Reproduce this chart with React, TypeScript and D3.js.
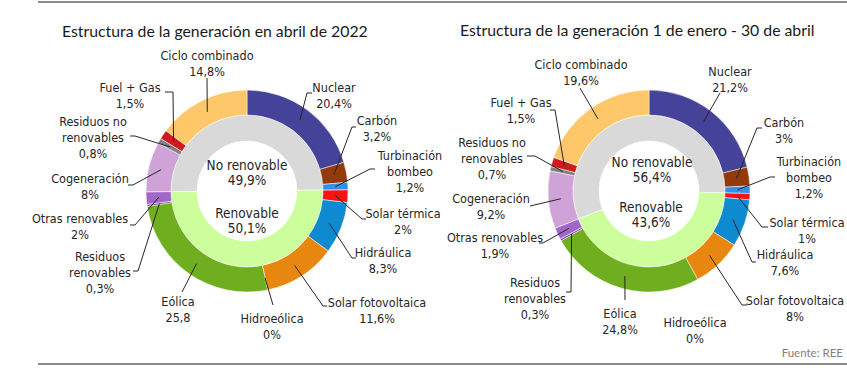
import React from 'react';
import * as d3 from 'd3';

// categorías del anillo exterior, en el orden de las agujas del reloj desde arriba
const categories = [
  'Nuclear', 'Carbón', 'Turbinación bombeo', 'Solar térmica', 'Hidráulica',
  'Solar fotovoltaica', 'Hidroeólica', 'Eólica', 'Residuos renovables',
  'Otras renovables', 'Cogeneración', 'Residuos no renovables', 'Fuel + Gas', 'Ciclo combinado',
];
const categoryLines = [
  ['Nuclear'], ['Carbón'], ['Turbinación', 'bombeo'], ['Solar térmica'], ['Hidráulica'],
  ['Solar fotovoltaica'], ['Hidroeólica'], ['Eólica'], ['Residuos', 'renovables'],
  ['Otras renovables'], ['Cogeneración'], ['Residuos no', 'renovables'], ['Fuel + Gas'], ['Ciclo combinado'],
];
const isRenewable = [false, false, false, true, true, true, true, true, true, true, false, false, false, false];

const abrilValues = [20.4, 3.2, 1.2, 2, 8.3, 11.6, 0, 25.8, 0.3, 2, 8, 0.8, 1.5, 14.8];
const abrilLabels = ['20,4%', '3,2%', '1,2%', '2%', '8,3%', '11,6%', '0%', '25,8', '0,3%', '2%', '8%', '0,8%', '1,5%', '14,8%'];

const acumValues = [21.2, 3, 1.2, 1, 7.6, 8, 0, 24.8, 0.3, 1.9, 9.2, 0.7, 1.5, 19.6];
const acumLabels = ['21,2%', '3%', '1,2%', '1%', '7,6%', '8%', '0%', '24,8%', '0,3%', '1,9%', '9,2%', '0,7%', '1,5%', '19,6%'];

const innerCategories = ['No renovable', 'Renovable'];
const abrilInner = [49.9, 50.1];
const abrilInnerLabels = ['49,9%', '50,1%'];
const acumInner = [56.4, 43.6];
const acumInnerLabels = ['56,4%', '43,6%'];

const colors = [
  '#45429a', '#923a0c', '#2f8fea', '#ff1010', '#0d8ad0', '#e8870f', '#9ccc3c',
  '#6fae1e', '#7a3fa8', '#a066c8', '#d0a3d8', '#808080', '#cf1a1f', '#fec86a',
];
const innerColors = ['#d9d9d9', '#ccff9c'];

// posición de las etiquetas y de las líneas guía, relativas al centro de cada anillo
type LabelPos = { x: number; y: number; pts: [number, number][] };
const abrilLayout: LabelPos[] = [
  { x: 87, y: -104, pts: [[60, -98], [65, -98]] },
  { x: 130, y: -71, pts: [[105, -64], [109, -64]] },
  { x: 163, y: -36, pts: [[123, -22], [128, -22]] },
  { x: 156, y: 22, pts: [[115, 28], [119, 28]] },
  { x: 136, y: 61, pts: [[105, 67], [109, 67]] },
  { x: 130, y: 111, pts: [[76, 115], [80, 115]] },
  { x: 25, y: 127, pts: [[26, 114]] },
  { x: -69, y: 110, pts: [[-65, 101]] },
  { x: -147, y: 65, pts: [[-109, 80], [-114, 80]] },
  { x: -167, y: 27, pts: [[-112, 34], [-117, 34]] },
  { x: -157, y: -13, pts: [[-114, -6], [-119, -6]] },
  { x: -154, y: -70, pts: [[-112, -55], [-117, -55]] },
  { x: -117, y: -104, pts: [[-74, -99], [-82, -99]] },
  { x: -40, y: -136, pts: [[-40, -113]] },
];
const acumLayout: LabelPos[] = [
  { x: 81, y: -120, pts: [[71, -98]] },
  { x: 135, y: -69, pts: [[108, -63], [113, -63]] },
  { x: 160, y: -30, pts: [[121, -14], [126, -14]] },
  { x: 158, y: 31, pts: [[113, 36], [119, 36]] },
  { x: 136, y: 63, pts: [[103, 71], [107, 71]] },
  { x: 146, y: 109, pts: [[93, 114], [98, 114]] },
  { x: 46, y: 131, pts: [] },
  { x: -29, y: 122, pts: [[-24, 109]] },
  { x: -114, y: 91, pts: [[-78, 101], [-83, 101]] },
  { x: -154, y: 46, pts: [[-106, 52], [-110, 52]] },
  { x: -158, y: 7, pts: [[-119, 15]] },
  { x: -157, y: -49, pts: [[-114, -35], [-122, -35]] },
  { x: -128, y: -89, pts: [[-94, -81], [-99, -81]] },
  { x: -68, y: -127, pts: [[-69, -103]] },
];

const labelFont = "'Liberation Sans Narrow', 'DejaVu Sans Condensed', 'Roboto Condensed', Roboto, sans-serif";
const titleFont = "Lato, 'Open Sans', sans-serif";

const R0 = 50, R1 = 76, R2 = 101;

type DonutProps = {
  cx: number; cy: number;
  values: number[]; labels: string[];
  inner: number[]; innerLabels: string[];
  layout: LabelPos[];
  innerPos: [number, number][];
};

const Donut = ({ cx, cy, values, labels, inner, innerLabels, layout, innerPos }: DonutProps) => {
  const outerPie = d3.pie<number>().value(d => d).sort(null)(values);
  const outerArc = d3.arc<d3.PieArcDatum<number>>().innerRadius(R1).outerRadius(R2);

  // el bloque "No renovable" empieza donde acaban las renovables
  const lastRen = isRenewable.lastIndexOf(true);
  const innerStart = outerPie[lastRen].endAngle - 2 * Math.PI;
  const innerPie = d3.pie<number>().value(d => d).sort(null)
    .startAngle(innerStart).endAngle(innerStart + 2 * Math.PI)(inner);
  const innerArc = d3.arc<d3.PieArcDatum<number>>().innerRadius(R0).outerRadius(R1);
  const line = d3.line();

  return (
    <g transform={`translate(${cx},${cy})`}>
      {innerPie.map((d, i) => (
        <path key={'i' + i} d={innerArc(d) || ''} fill={innerColors[i]} stroke="#fff" strokeWidth={0.5} />
      ))}
      {outerPie.map((d, i) => d.value > 0 && (
        <path key={'o' + i} d={outerArc(d) || ''} fill={colors[i]} stroke="#fff" strokeWidth={0.5} />
      ))}
      {outerPie.map((d, i) => {
        const lp = layout[i];
        if (lp.pts.length === 0) return null;
        const c = outerArc.centroid(d) as [number, number];
        return (
          <path key={'l' + i} d={line([c, ...lp.pts]) || ''} fill="none" stroke="#262626" strokeWidth={1} />
        );
      })}
      {outerPie.map((d, i) => {
        const lp = layout[i];
        const rows = [...categoryLines[i], labels[i]];
        return (
          <text key={'t' + i} x={lp.x} y={lp.y} textAnchor="middle" fontFamily={labelFont}
            fontSize={12.5} fill="#262626">
            {rows.map((r, k) => (
              <tspan key={k} x={lp.x} dy={k === 0 ? '0.36em' : 16}>{r}</tspan>
            ))}
          </text>
        );
      })}
      {innerPie.map((d, i) => (
        <text key={'it' + i} x={innerPos[i][0]} y={innerPos[i][1]} textAnchor="middle"
          fontFamily={labelFont} fontSize={13.5} fill="#262626">
          <tspan x={innerPos[i][0]} dy="0.36em">{innerCategories[i]}</tspan>
          <tspan x={innerPos[i][0]} dy={15.5}>{innerLabels[i]}</tspan>
        </text>
      ))}
    </g>
  );
};

export default function App() {
  const width = 847, height = 372;
  return (
    <svg width={width} height={height} style={{ position: 'absolute', left: 0, top: 0, background: '#fff' }}>
      <rect width={width} height={height} fill="#fff" />
      <line x1={38} x2={847} y1={2} y2={2} stroke="#8c8c8c" strokeWidth={2} />
      <line x1={38} x2={847} y1={364} y2={364} stroke="#8c8c8c" strokeWidth={2} />
      <text x={62} y={36.5} fontFamily={titleFont} fontSize={15.8} fill="#1a1a1a">
        Estructura de la generación en abril de 2022
      </text>
      <text x={460} y={35.5} fontFamily={titleFont} fontSize={15.8} fill="#1a1a1a">
        Estructura de la generación 1 de enero - 30 de abril
      </text>
      <Donut cx={247} cy={191} values={abrilValues} labels={abrilLabels}
        inner={abrilInner} innerLabels={abrilInnerLabels} layout={abrilLayout}
        innerPos={[[0, -26], [0, 22]]} />
      <Donut cx={649} cy={191} values={acumValues} labels={acumLabels}
        inner={acumInner} innerLabels={acumInnerLabels} layout={acumLayout}
        innerPos={[[3, -29], [2, 16]]} />
      <text x={843} y={357} textAnchor="end" fontFamily={titleFont} fontSize={11.5} fill="#7f7f7f">
        Fuente: REE
      </text>
    </svg>
  );
}
